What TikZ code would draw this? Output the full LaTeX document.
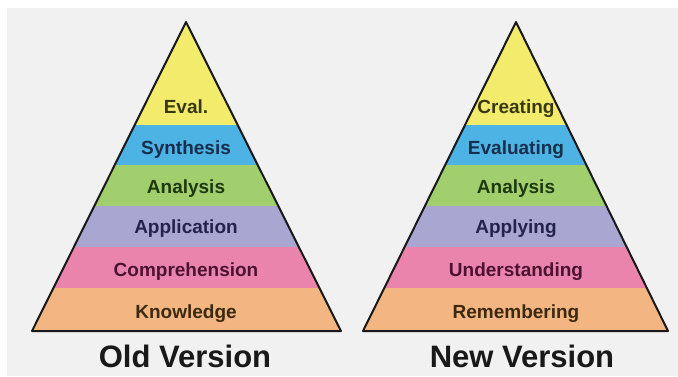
\documentclass[tikz,border=0pt]{standalone}
\usepackage{fontspec}
\setmainfont{Liberation Sans}
\definecolor{bggray}{HTML}{F1F1F1}
\definecolor{cyel}{HTML}{F3EB6C}
\definecolor{cblu}{HTML}{4DB2E4}
\definecolor{cgrn}{HTML}{A2CF6E}
\definecolor{cpur}{HTML}{A9A6D2}
\definecolor{cpnk}{HTML}{EB84AC}
\definecolor{corg}{HTML}{F3B581}
\definecolor{tyel}{HTML}{3A3812}
\definecolor{tblu}{HTML}{172F4C}
\definecolor{tgrn}{HTML}{1E3810}
\definecolor{tpur}{HTML}{24234C}
\definecolor{tpnk}{HTML}{4C1330}
\definecolor{torg}{HTML}{3A2A12}
\tikzset{
  lbl/.style={font=\bfseries\fontsize{19}{19}\selectfont, anchor=base, inner sep=0pt},
  ttl/.style={font=\bfseries\fontsize{31}{31}\selectfont, anchor=base, inner sep=0pt, text=black!90},
  outline/.style={draw=black!90, line width=2pt, line join=round}
}
\begin{document}
\begin{tikzpicture}[x=1pt,y=-1pt]
\useasboundingbox (0,0) rectangle (678,376);
\fill[white] (0,0) rectangle (678,376);
\fill[bggray] (7,8) rectangle (678,376);
% ---------- left pyramid ----------
\begin{scope}
\clip (186,22) -- (341,331) -- (32,331) -- cycle;
\fill[cyel] (0,0) rectangle (678,125);
\fill[cblu] (0,125) rectangle (678,165);
\fill[cgrn] (0,165) rectangle (678,206);
\fill[cpur] (0,206) rectangle (678,247);
\fill[cpnk] (0,247) rectangle (678,288);
\fill[corg] (0,288) rectangle (678,340);
\end{scope}
\draw[outline] (186,22) -- (341,331) -- (32,331) -- cycle;
\node[lbl, text=tyel] (l1) at (186,113) {Eval.};
\node[lbl, text=tblu] (l2) at (186,154) {Synthesis};
\node[lbl, text=tgrn] (l3) at (186,193) {Analysis};
\node[lbl, text=tpur] (l4) at (186,233) {Application};
\node[lbl, text=tpnk] (l5) at (186,276) {Comprehension};
\node[lbl, text=torg] (l6) at (186,318) {Knowledge};
% ---------- right pyramid ----------
\begin{scope}
\clip (516,22) -- (668,331) -- (363,331) -- cycle;
\fill[cyel] (350,0) rectangle (678,125);
\fill[cblu] (350,125) rectangle (678,165);
\fill[cgrn] (350,165) rectangle (678,206);
\fill[cpur] (350,206) rectangle (678,247);
\fill[cpnk] (350,247) rectangle (678,288);
\fill[corg] (350,288) rectangle (678,340);
\end{scope}
\draw[outline] (516,22) -- (668,331) -- (363,331) -- cycle;
\node[lbl, text=tyel] (r1) at (516,113) {Creating};
\node[lbl, text=tblu] (r2) at (516,154) {Evaluating};
\node[lbl, text=tgrn] (r3) at (516,193) {Analysis};
\node[lbl, text=tpur] (r4) at (516,233) {Applying};
\node[lbl, text=tpnk] (r5) at (516,276) {Understanding};
\node[lbl, text=torg] (r6) at (516,318) {Remembering};
% ---------- titles ----------
\node[ttl] (told) at (185,367) {Old Version};
\node[ttl] (tnew) at (522,367) {New Version};
\end{tikzpicture}
\end{document}
